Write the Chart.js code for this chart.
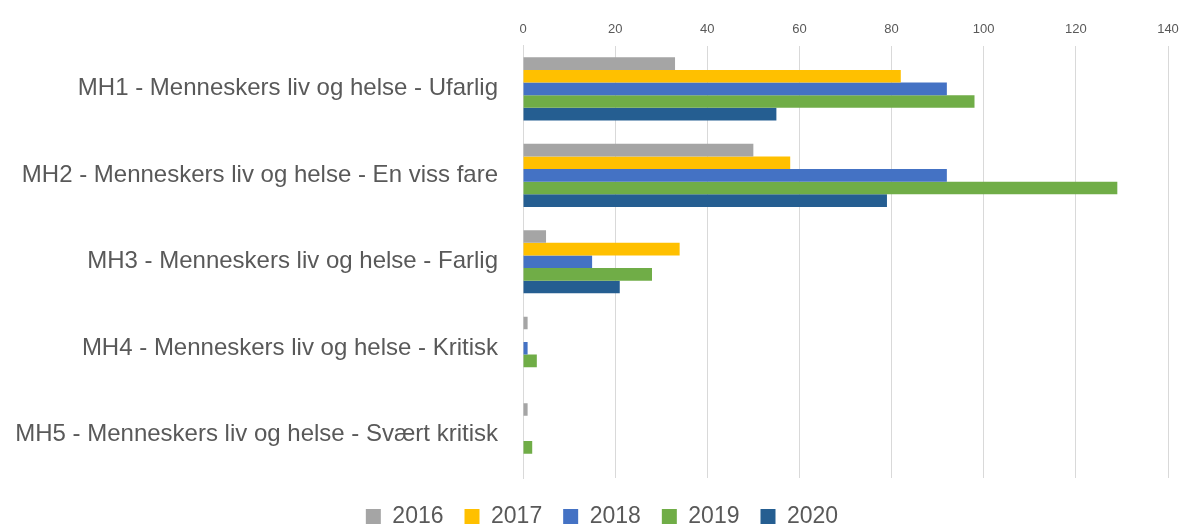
<!DOCTYPE html>
<html>
<head>
<meta charset="utf-8">
<script src="https://cdn.jsdelivr.net/npm/chart.js@4"></script>
<style>
  html, body { margin: 0; padding: 0; background: #fff; }
  #wrap { width: 1189px; height: 525px; }
</style>
</head>
<body>
<div id="wrap"><canvas id="riskChart"></canvas></div>
<script>
const categories = [
  "MH1 - Menneskers liv og helse - Ufarlig",
  "MH2 - Menneskers liv og helse - En viss fare",
  "MH3 - Menneskers liv og helse - Farlig",
  "MH4 - Menneskers liv og helse - Kritisk",
  "MH5 - Menneskers liv og helse - Svært kritisk"
];
const years = ["2016", "2017", "2018", "2019", "2020"];
const values2016 = [33, 50, 5, 1, 1];
const values2017 = [82, 58, 34, 0, 0];
const values2018 = [92, 92, 15, 1, 0];
const values2019 = [98, 129, 28, 3, 2];
const values2020 = [55, 79, 21, 0, 0];
const xTicks = [0, 20, 40, 60, 80, 100, 120, 140];

const colors = ["#A5A5A5", "#FFC000", "#4472C4", "#70AD47", "#255E91"];
const series = [values2016, values2017, values2018, values2019, values2020];

// move the legend a bit lower and to the right after layout, plot area stays put
const legendNudge = {
  id: "legendNudge",
  afterLayout(chart) {
    const lg = chart.legend;
    if (!lg) return;
    lg.top += 6;
    lg.bottom += 6;
    lg.left += 18;
    lg.right += 18;
  },
};

const ctx = document.getElementById("riskChart").getContext("2d");

new Chart(ctx, {
  type: "bar",
  data: {
    labels: categories,
    datasets: series.map((data, i) => ({
      label: years[i],
      data,
      backgroundColor: colors[i],
      borderWidth: 0,
      categoryPercentage: 0.73,
      barPercentage: 1.0,
    })),
  },
  options: {
    indexAxis: "y",
    responsive: true,
    maintainAspectRatio: false,
    animation: false,
    layout: { padding: { top: 14, right: 21, bottom: -7, left: 0 } },
    plugins: {
      legend: {
        position: "bottom",
        labels: {
          boxWidth: 15,
          boxHeight: 15,
          padding: 21,
          color: "#595959",
          font: { size: 23, family: "Liberation Sans" },
        },
      },
      tooltip: { enabled: false },
    },
    scales: {
      x: {
        position: "top",
        min: 0,
        max: 140,
        afterBuildTicks: (scale) => {
          scale.ticks = xTicks.map((v) => ({ value: v }));
        },
        ticks: {
          color: "#595959",
          padding: 8,
          font: { size: 13, family: "Liberation Sans" },
        },
        grid: { color: "#D9D9D9", drawTicks: false },
        border: { display: false },
      },
      y: {
        afterFit: (scale) => { scale.width = 523; },
        ticks: {
          color: "#595959",
          padding: 25,
          font: { size: 24, family: "Liberation Sans" },
        },
        grid: { display: false, drawTicks: false },
        border: { display: true, color: "#D9D9D9" },
      },
    },
  },
  plugins: [legendNudge],
});
</script>
</body>
</html>
